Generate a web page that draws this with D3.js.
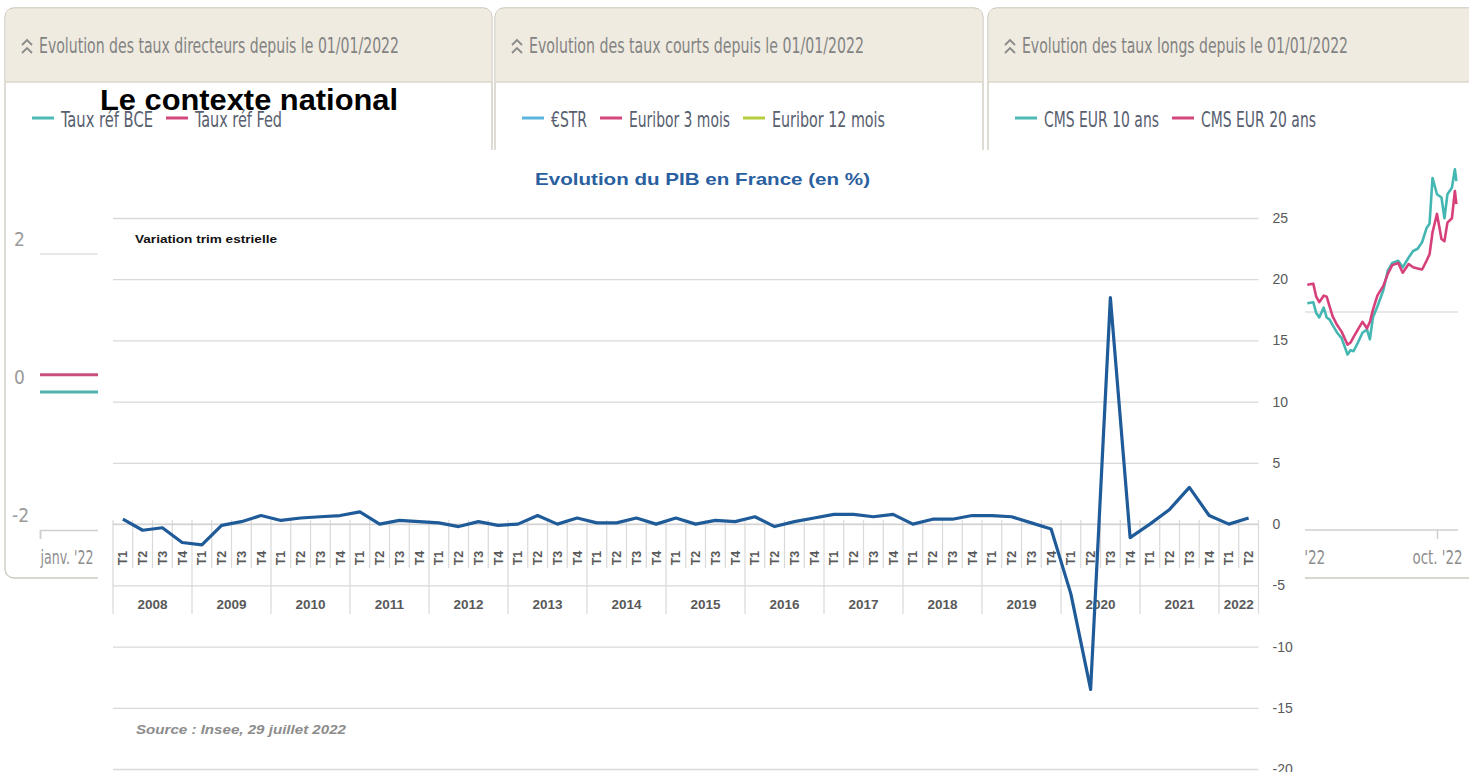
<!DOCTYPE html>
<html>
<head>
<meta charset="utf-8">
<script src="https://cdn.jsdelivr.net/npm/d3@7"></script>
<style>
html, body { margin: 0; padding: 0; background: #fff; }
svg { display: block; }
</style>
</head>
<body>
<svg id="page"></svg>
<script>
const width = 1469, height = 772;

// ---- PIB chart data (variation trimestrielle, %)
const years = [2008, 2009, 2010, 2011, 2012, 2013, 2014, 2015, 2016, 2017, 2018, 2019, 2020, 2021, 2022];
const quarterNames = ["T1", "T2", "T3", "T4"];
const quartersIn2022 = 2;
const pibValues = [
  0.4, -0.5, -0.3, -1.5,
  -1.7, -0.1, 0.2, 0.7,
  0.3, 0.5, 0.6, 0.7,
  1.0, 0.0, 0.3, 0.2,
  0.1, -0.2, 0.2, -0.1,
  0.0, 0.7, 0.0, 0.5,
  0.1, 0.1, 0.5, 0.0,
  0.5, 0.0, 0.3, 0.2,
  0.6, -0.2, 0.2, 0.5,
  0.8, 0.8, 0.6, 0.8,
  0.0, 0.4, 0.4, 0.7,
  0.7, 0.6, 0.1, -0.4,
  -5.7, -13.5, 18.5, -1.1,
  0.0, 1.2, 3.0, 0.7,
  0.0, 0.5
];
const yTicks = [25, 20, 15, 10, 5, 0, -5, -10, -15, -20];

// ---- background widgets
const cardTitles = [
  "Evolution des taux directeurs depuis le 01/01/2022",
  "Evolution des taux courts depuis le 01/01/2022",
  "Evolution des taux longs depuis le 01/01/2022"
];
const cardLegends = [
  ["Taux réf BCE", "Taux réf Fed"],
  ["€STR", "Euribor 3 mois", "Euribor 12 mois"],
  ["CMS EUR 10 ans", "CMS EUR 20 ans"]
];
const directeurTicks = [-2, 0, 2];
const bceDates = ["2022-01-01", "2022-07-27", "2022-09-14", "2022-10-31"];
const bceValues = [0, 0.5, 1.25, 1.25];
const fedDates = ["2022-01-01", "2022-03-17", "2022-05-05", "2022-06-16", "2022-07-28", "2022-10-31"];
const fedValues = [0.25, 0.5, 1.0, 1.75, 2.5, 2.5];
const longTicks = [0, 2];
// day of year 2022 for each CMS observation
const cmsDays = [186, 190, 192, 194, 197, 199, 201, 203, 206, 209, 213, 215, 217, 220, 223, 226, 228, 230, 233, 237,
  240, 243, 247, 250, 254, 257, 260, 263, 266, 268, 270, 273, 276, 278, 280, 283, 285, 286];
const cms10Values = [2.08, 2.09, 1.99, 1.95, 2.04, 1.95, 1.93, 1.88, 1.81, 1.76, 1.61, 1.65, 1.64, 1.72, 1.81, 1.84, 1.75, 1.95, 2.05, 2.20,
  2.38, 2.45, 2.47, 2.41, 2.50, 2.56, 2.58, 2.64, 2.77, 2.81, 3.23, 3.08, 3.05, 2.86, 3.08, 3.14, 3.31, 3.20];
const cms20Values = [2.25, 2.26, 2.14, 2.09, 2.15, 2.14, 2.05, 1.96, 1.88, 1.82, 1.70, 1.72, 1.77, 1.84, 1.91, 1.85, 1.91, 2.02, 2.15, 2.24,
  2.35, 2.43, 2.45, 2.36, 2.44, 2.41, 2.40, 2.39, 2.47, 2.53, 2.73, 2.90, 2.67, 2.65, 2.82, 2.86, 3.11, 2.99];
const monthsShort = ["janv.", "févr.", "mars", "avr.", "mai", "juin", "juil.", "août", "sept.", "oct.", "nov.", "déc."];

// ---- styles / layout
const legendColors = {
  "Taux réf BCE": "#4dbab6", "Taux réf Fed": "#d4467c",
  "€STR": "#5ab5dc", "Euribor 3 mois": "#d4467c", "Euribor 12 mois": "#b7cd3c",
  "CMS EUR 10 ans": "#4dbab6", "CMS EUR 20 ans": "#d4467c"
};
const legendTextWidth = {
  "Taux réf BCE": 92, "Taux réf Fed": 87, "€STR": 36, "Euribor 3 mois": 101,
  "Euribor 12 mois": 113, "CMS EUR 10 ans": 115, "CMS EUR 20 ans": 115
};
const cardBoxes = [{x0: 5, x1: 492}, {x0: 495, x1: 983}, {x0: 988, x1: 1495}];
const cardTitleWidth = [360, 335, 326];
const narrow = "'Liberation Sans Narrow', 'DejaVu Sans Condensed', 'Roboto', sans-serif";
const arial = "'Liberation Sans', Arial, sans-serif";

const svg = d3.select("#page").attr("width", width).attr("height", height)
  .style("background", "#fff");

const parse = d3.timeParse("%Y-%m-%d");
const jan1 = new Date(2022, 0, 1);
const frDate = d => monthsShort[d.getMonth()] + " '" + String(d.getFullYear()).slice(2);

// ---------- cards
const cards = svg.append("g");
cardBoxes.forEach((b, i) => {
  const g = cards.append("g");
  g.append("rect").attr("x", b.x0).attr("y", 8).attr("width", b.x1 - b.x0).attr("height", 570)
    .attr("rx", 9).attr("fill", "#fff").attr("stroke", "#cdc9bf").attr("stroke-width", 1.3);
  g.append("path")
    .attr("d", `M${b.x0 + 0.6},82 V17 Q${b.x0 + 0.6},8.6 ${b.x0 + 9},8.6 H${b.x1 - 9} Q${b.x1 - 0.6},8.6 ${b.x1 - 0.6},17 V82 Z`)
    .attr("fill", "#efebe0");
  g.append("line").attr("x1", b.x0).attr("x2", b.x1).attr("y1", 82).attr("y2", 82)
    .attr("stroke", "#dcd7ca").attr("stroke-width", 1.5);
  // double chevron
  const cx = b.x0 + 17;
  g.append("path")
    .attr("d", `M${cx},45 l5,-5 l5,5 M${cx},53 l5,-5 l5,5`)
    .attr("fill", "none").attr("stroke", "#8a8a8a").attr("stroke-width", 1.8);
  g.append("text").attr("x", b.x0 + 34).attr("y", 53)
    .attr("font-family", narrow).attr("font-size", 22).attr("fill", "#838383")
    .attr("textLength", cardTitleWidth[i]).attr("lengthAdjust", "spacingAndGlyphs")
    .text(cardTitles[i]);
  // legend
  let sx = b.x0 + 27;
  cardLegends[i].forEach(label => {
    g.append("line").attr("x1", sx).attr("x2", sx + 22).attr("y1", 118).attr("y2", 118)
      .attr("stroke", legendColors[label]).attr("stroke-width", 3);
    g.append("text").attr("x", sx + 29).attr("y", 127)
      .attr("font-family", narrow).attr("font-size", 22).attr("fill", "#58606f")
      .attr("textLength", legendTextWidth[label]).attr("lengthAdjust", "spacingAndGlyphs")
      .text(label);
    sx += 29 + legendTextWidth[label] + 13;
  });
});

// ---------- card 1 plot (taux directeurs)
{
  const x = d3.scaleTime().domain([jan1, new Date(2022, 9, 31)]).range([40, 470]);
  const y = d3.scaleLinear().domain([-2, 2]).range([530, 254]);
  const g = svg.append("g");
  g.selectAll(".grid").data(directeurTicks.filter(d => d > -2)).join("line")
    .attr("x1", 40).attr("x2", 470).attr("y1", d => y(d)).attr("y2", d => y(d))
    .attr("stroke", "#e8e8e8").attr("stroke-width", 2);
  g.selectAll(".lab").data(directeurTicks).join("text")
    .attr("x", d => d < 0 ? 12 : 14).attr("y", d => y(d) - 8)
    .attr("font-family", narrow).attr("font-size", 19).attr("fill", "#9a9a9a")
    .text(d => String(d));
  const line = d3.line().curve(d3.curveStepAfter).x(d => x(d[0])).y(d => y(d[1]));
  g.append("path").datum(fedDates.map((d, i) => [parse(d), fedValues[i]]))
    .attr("d", line).attr("fill", "none").attr("stroke", "#c8507e").attr("stroke-width", 3);
  g.append("path").datum(bceDates.map((d, i) => [parse(d), bceValues[i]]))
    .attr("d", line).attr("fill", "none").attr("stroke", "#4fb2ae").attr("stroke-width", 3);
  const ax = g.append("g").attr("transform", "translate(0,530)")
    .call(d3.axisBottom(x).tickValues([jan1]).tickSize(9).tickFormat(frDate));
  ax.select(".domain").attr("stroke", "#cfcfcf").attr("stroke-width", 1.5);
  ax.selectAll(".tick line").attr("stroke", "#cfcfcf").attr("stroke-width", 1.5);
  ax.selectAll(".tick text").attr("text-anchor", "start").attr("dy", 0).attr("y", 34)
    .attr("font-family", narrow).attr("font-size", 19).attr("fill", "#8e8e8e")
    .attr("textLength", 53).attr("lengthAdjust", "spacingAndGlyphs");
}

// ---------- card 3 plot (taux longs)
{
  const x = d3.scaleTime().domain([jan1, new Date(2022, 9, 1)]).range([1030, 1437]);
  const y = d3.scaleLinear().domain([0, 2]).range([530, 312]);
  const g = svg.append("g");
  g.selectAll(".grid").data(longTicks.filter(d => d > 0)).join("line")
    .attr("x1", 1030).attr("x2", 1458).attr("y1", d => y(d)).attr("y2", d => y(d))
    .attr("stroke", "#e8e8e8").attr("stroke-width", 2);
  const pts = vals => cmsDays.map((d, i) => [d3.timeDay.offset(jan1, d), vals[i]]);
  const line = d3.line().x(d => x(d[0])).y(d => y(d[1]));
  g.append("path").datum(pts(cms10Values)).attr("d", line).attr("fill", "none")
    .attr("stroke", "#45b7b3").attr("stroke-width", 2.6).attr("stroke-linejoin", "round");
  g.append("path").datum(pts(cms20Values)).attr("d", line).attr("fill", "none")
    .attr("stroke", "#d6417b").attr("stroke-width", 2.6).attr("stroke-linejoin", "round");
  const ax = g.append("g").attr("transform", "translate(0,530)")
    .call(d3.axisBottom(x).tickValues([new Date(2022, 3, 1), new Date(2022, 6, 1), new Date(2022, 9, 1)])
      .tickSize(9).tickFormat(frDate));
  ax.select(".domain").attr("d", "M1030,0H1458").attr("stroke", "#cfcfcf").attr("stroke-width", 1.5);
  ax.selectAll(".tick line").attr("stroke", "#cfcfcf").attr("stroke-width", 1.5);
  ax.selectAll(".tick text").attr("dy", 0).attr("y", 34)
    .attr("font-family", narrow).attr("font-size", 19).attr("fill", "#8e8e8e")
    .attr("textLength", 50).attr("lengthAdjust", "spacingAndGlyphs");
}

// ---------- white overlay holding the PIB chart
svg.append("rect").attr("x", 98).attr("y", 150).attr("width", 1207).attr("height", 640).attr("fill", "#fff");

const categories = years.flatMap(yr =>
  quarterNames.slice(0, yr === 2022 ? quartersIn2022 : 4).map(q => ({year: yr, q: q})));

const x = d3.scaleBand().domain(d3.range(categories.length)).range([113, 1258.5]);
const xc = i => x(i) + x.bandwidth() / 2;
const y = d3.scaleLinear().domain([-20, 25]).range([769, 218]);
const chart = svg.append("g");

// gridlines
const grid = chart.append("g").attr("transform", "translate(113,0)")
  .call(d3.axisLeft(y).tickValues(yTicks).tickSize(-(1258.5 - 113)).tickFormat(""));
grid.select(".domain").remove();
grid.selectAll(".tick line").attr("stroke", "#d9d9d9").attr("stroke-width", 1.3);

// right labels
const yAxis = chart.append("g").attr("transform", "translate(1258.5,0)")
  .call(d3.axisRight(y).tickValues(yTicks).tickSize(0).tickPadding(14).tickFormat(d => String(d)));
yAxis.select(".domain").remove();
yAxis.selectAll("text").attr("font-family", arial).attr("font-size", 14).attr("fill", "#595959");

// category axis
const y0 = y(0);
const bounds = d3.range(categories.length + 1);
chart.selectAll(".sep").data(bounds).join("line")
  .attr("x1", i => 113 + i * x.step()).attr("x2", i => 113 + i * x.step())
  .attr("y1", y0 - 4)
  .attr("y2", i => (i % 4 === 0 || i === categories.length) ? 614 : 568)
  .attr("stroke", "#d9d9d9").attr("stroke-width", 1.2);
chart.append("line").attr("x1", 113).attr("x2", 1258.5).attr("y1", y0).attr("y2", y0)
  .attr("stroke", "#d0d0d0").attr("stroke-width", 1.3);

chart.selectAll(".qlab").data(categories).join("text")
  .attr("transform", (d, i) => `translate(${xc(i) + 4.5},558) rotate(-90)`)
  .attr("text-anchor", "middle")
  .attr("font-family", arial).attr("font-size", 12.5).attr("font-weight", "bold").attr("fill", "#595959")
  .text(d => d.q);

const yearGroups = d3.groups(categories.map((d, i) => ({...d, i})), d => d.year);
chart.selectAll(".ylab").data(yearGroups).join("text")
  .attr("x", d => (xc(d[1][0].i) + xc(d[1][d[1].length - 1].i)) / 2)
  .attr("y", 609)
  .attr("text-anchor", "middle")
  .attr("font-family", arial).attr("font-size", 13.5).attr("font-weight", "bold").attr("fill", "#595959")
  .text(d => d[0]);

// PIB line
chart.append("path").datum(pibValues)
  .attr("d", d3.line().x((d, i) => xc(i)).y(d => y(d)))
  .attr("fill", "none").attr("stroke", "#1f5b98").attr("stroke-width", 3.2)
  .attr("stroke-linejoin", "round");

// titles
chart.append("text").attr("x", 702.5).attr("y", 185).attr("text-anchor", "middle")
  .attr("font-family", arial).attr("font-size", 17).attr("font-weight", "bold").attr("fill", "#2a60a0")
  .attr("textLength", 335).attr("lengthAdjust", "spacingAndGlyphs")
  .text("Evolution du PIB en France (en %)");
chart.append("text").attr("x", 135).attr("y", 243)
  .attr("font-family", arial).attr("font-size", 11.5).attr("font-weight", "bold").attr("fill", "#111")
  .attr("textLength", 142).attr("lengthAdjust", "spacingAndGlyphs")
  .text("Variation trim estrielle");
chart.append("text").attr("x", 136).attr("y", 734)
  .attr("font-family", arial).attr("font-size", 12.5).attr("font-weight", "bold").attr("font-style", "italic")
  .attr("fill", "#8c8c8c")
  .attr("textLength", 210).attr("lengthAdjust", "spacingAndGlyphs")
  .text("Source : Insee, 29 juillet 2022");

// section heading on top of everything
svg.append("text").attr("x", 100).attr("y", 110)
  .attr("font-family", arial).attr("font-size", 30).attr("font-weight", "bold").attr("fill", "#000")
  .attr("textLength", 298).attr("lengthAdjust", "spacingAndGlyphs")
  .text("Le contexte national");
</script>
</body>
</html>
